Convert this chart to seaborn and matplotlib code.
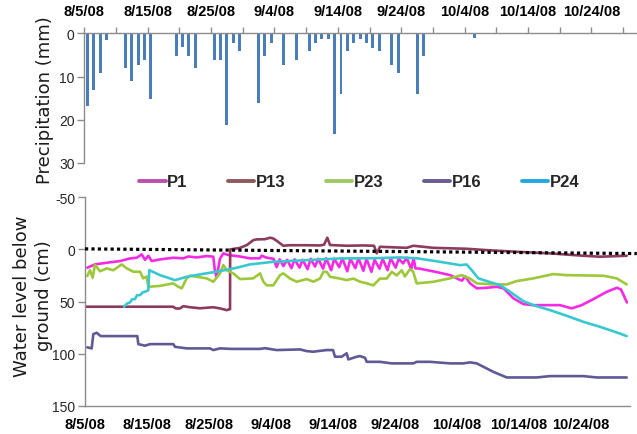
import pandas as pd
import matplotlib
matplotlib.use("Agg")
import matplotlib.pyplot as plt
import seaborn as sns
from matplotlib.lines import Line2D

START = pd.Timestamp("2008-08-05")

# Daily rainfall (mm)
rain_dates = ["2008-08-05", "2008-08-06", "2008-08-07", "2008-08-08", "2008-08-11",
              "2008-08-12", "2008-08-13", "2008-08-14", "2008-08-15", "2008-08-19",
              "2008-08-20", "2008-08-21", "2008-08-22", "2008-08-25", "2008-08-26",
              "2008-08-27", "2008-08-28", "2008-08-29", "2008-09-01", "2008-09-02",
              "2008-09-03", "2008-09-05", "2008-09-07", "2008-09-09", "2008-09-10",
              "2008-09-11", "2008-09-12", "2008-09-13", "2008-09-14", "2008-09-15",
              "2008-09-16", "2008-09-17", "2008-09-18", "2008-09-19", "2008-09-20",
              "2008-09-22", "2008-09-23", "2008-09-26", "2008-09-27", "2008-10-05"]
rain_mm = [16.8, 13.1, 9.2, 1.5, 8.0,
           11.1, 7.3, 6.1, 15.2, 5.3,
           3.2, 5.3, 8.0, 6.1, 6.1,
           21.2, 2.2, 4.1, 16.1, 5.3,
           2.2, 7.3, 6.1, 4.1, 2.2,
           1.4, 1.4, 23.2, 14.1, 4.1,
           2.2, 1.4, 2.2, 3.3, 4.1,
           7.3, 9.2, 14.1, 5.3, 1.2]

# Water level below ground (cm); days counted from 5 Aug 2008
p1_day = [0.37, 1.6, 3.5, 5.65, 7.26, 8.34, 9.15, 9.68, 10.21, 10.76, 12.1, 14.24,
          15.85, 16.66, 18.02, 19.63, 20.69, 20.97, 21.24, 21.77, 22.31, 23.11, 25.0,
          26.61, 28.2, 28.5, 29.3,
          30.4, 30.9, 31.4, 32.0, 32.6, 33.3, 33.8, 34.6, 35.1, 35.9, 36.4, 37.1, 37.6,
          38.4, 38.9, 39.7, 40.2, 41.0, 41.5, 42.3, 42.8, 43.6, 44.1, 44.9, 45.4, 46.2,
          46.7, 47.5, 48.0, 48.8, 49.3, 50.1, 50.6, 51.3, 51.9, 52.6, 53.0, 53.3,
          54.0, 56.5, 58.9, 60.2, 60.8, 61.3, 62.1, 63.2, 64.8, 66.4, 67.5, 69.1, 70.7,
          72.3, 76.6, 78.5, 80.1, 82.0, 84.15, 85.8, 86.45, 86.8, 87.4]
p1_cm = [17.6, 14.4, 12.8, 11.2, 8.7, 8.0, 4.8, 10.0, 6.1, 11.2, 9.6, 8.0,
         8.6, 6.8, 7.7, 6.4, 7.0, 21.5, 26.8, 9.0, 3.8, 5.4, 6.8,
         8.6, 8.6, 6.0, 8.0,
         9.0, 17.0, 9.5, 16.0, 10.0, 18.0, 9.5, 17.5, 10.0, 19.0, 9.0, 16.5, 9.0,
         18.5, 8.5, 20.0, 9.0, 17.0, 8.5, 21.0, 9.0, 18.0, 8.5, 20.5, 9.0, 21.5,
         10.0, 18.5, 9.0, 20.0, 8.5, 17.5, 9.0, 13.4, 8.0, 19.0, 8.5, 18.2,
         18.5, 21.5, 24.7, 28.5, 30.0, 25.7, 32.6, 37.4, 36.8, 35.9, 37.4, 47.0, 52.5,
         53.5, 53.5, 56.6, 53.5, 47.7, 40.7, 36.8, 38.5, 43.0, 50.9]

p13_day = [0.16, 14.19, 14.68, 15.3, 15.85, 16.94, 18.55, 20.69, 21.77, 22.85, 23.27,
           23.39, 23.41, 25.0, 26.08, 27.15, 27.69, 29.03, 29.84, 30.37, 30.97, 31.98,
           33.06, 35.76, 37.9, 38.55, 39.08, 39.52, 42.21, 44.89, 46.61, 47.05, 47.58,
           51.89, 52.95, 56.18, 61.56, 64.79, 69.63, 75.0, 80.37, 83.06, 87.37]
p13_cm = [55.0, 55.0, 56.7, 56.7, 54.5, 55.5, 56.5, 55.5, 56.6, 58.3, 57.5,
          57.5, 0.0, -1.5, -4.1, -8.9, -9.6, -9.8, -11.2, -10.5, -8.0, -3.5,
          -4.0, -4.0, -3.8, -4.5, -11.2, -4.2, -3.5, -3.8, -3.5, 3.8, -2.5,
          -1.5, -3.5, -1.5, -0.6, 0.7, 2.3, 3.8, 6.1, 7.0, 6.1]

p23_day = [0.37, 0.81, 1.24, 1.61, 2.42, 3.5, 4.56, 5.37, 5.92, 6.73, 7.79, 8.87,
           9.4, 9.95, 10.21, 12.1, 14.24, 15.05, 15.6, 16.4, 16.94, 18.02, 19.63,
           20.69, 21.77, 22.31, 22.85, 23.92, 25.0, 27.15, 28.23, 28.76, 29.31, 30.37,
           31.45, 31.98, 33.06, 34.15, 35.76, 36.82, 37.9, 38.44, 38.98, 39.52, 41.13,
           42.21, 43.27, 44.35, 45.44, 46.5, 47.58, 48.66, 49.47, 50.27, 51.08, 51.6,
           52.4, 52.9, 53.5, 56.18, 58.87, 60.76, 62.1, 63.18, 65.85, 68.02, 69.63,
           72.31, 75.53, 77.69, 80.92, 83.6, 85.76, 87.37]
p23_cm = [25.5, 20.0, 27.2, 14.8, 21.0, 18.2, 20.0, 16.7, 14.4, 18.2, 21.4, 21.4,
          27.8, 26.0, 35.9, 35.0, 32.6, 35.9, 37.4, 27.8, 25.2, 26.3, 27.8,
          31.1, 23.0, 15.0, 20.0, 23.0, 28.5, 27.8, 23.0, 31.0, 34.5, 34.5,
          24.7, 23.0, 28.0, 31.0, 28.5, 31.0, 28.0, 21.5, 21.5, 26.3, 28.0,
          29.5, 28.0, 31.0, 32.6, 34.5, 28.0, 28.0, 21.5, 25.0, 20.0, 26.0,
          19.0, 21.0, 32.6, 31.1, 27.8, 24.7, 28.0, 32.6, 33.6, 33.6, 30.4,
          27.8, 23.7, 24.7, 25.0, 25.3, 27.8, 33.6]

p16_day = [0.37, 1.08, 1.34, 1.89, 2.53, 8.44, 8.6, 9.68, 10.48, 14.24, 14.52, 16.4,
           20.16, 20.69, 21.77, 23.66, 28.23, 29.03, 30.92, 34.68, 35.76, 36.77, 38.98,
           40.0, 40.32, 41.4, 42.21, 42.47, 43.82, 44.35, 45.16, 45.44, 47.58, 49.47,
           52.95, 53.5, 55.65, 58.87, 61.02, 62.1, 63.18, 65.85, 68.02, 72.85, 75.0,
           80.37, 82.53, 87.37]
p16_cm = [94.0, 95.0, 81.3, 80.0, 83.2, 83.2, 90.9, 92.4, 90.9, 90.9, 93.5, 95.0,
          95.0, 96.6, 95.0, 95.5, 95.5, 94.8, 96.6, 96.0, 97.6, 98.2, 96.6,
          96.6, 103.0, 103.0, 99.7, 105.6, 103.0, 102.4, 104.0, 107.9, 107.9, 109.4,
          109.4, 107.9, 107.9, 109.4, 109.4, 108.4, 109.4, 117.5, 122.9, 122.9, 121.6,
          121.6, 122.9, 122.9]

p24_day = [6.29, 6.77, 7.26, 7.58, 8.06, 8.39, 8.87, 9.35, 9.68, 10.21, 10.37, 12.1,
           14.52, 16.4, 18.55, 21.77, 24.47, 26.61, 30.37, 35.76, 41.13, 46.5, 50.81,
           53.5, 57.26, 60.48, 61.56, 62.37, 63.44, 64.79, 66.94, 68.55, 70.69, 72.31,
           75.0, 77.69, 80.37, 83.06, 85.76, 87.37]
p24_cm = [55.0, 52.0, 50.9, 48.0, 47.7, 44.0, 43.9, 41.0, 40.7, 39.2, 19.9, 24.7,
          29.5, 26.3, 24.0, 20.8, 17.6, 14.4, 11.9, 10.3, 8.7, 8.5, 7.7,
          8.5, 11.9, 15.1, 14.5, 19.9, 27.8, 30.4, 34.3, 40.7, 49.6, 53.5,
          58.3, 63.7, 69.5, 74.3, 79.7, 83.2]

# Ground surface reference (dotted)
ground_day = [0.0, 89.0]
ground_cm = [-0.5, 4.0]

well_names = ["P1", "P13", "P23", "P16", "P24"]
line_colors = ["#F42AE4", "#8C3B5E", "#9DC83A", "#5F5A95", "#38C8CF"]
legend_colors = ["#BC4FAE", "#8E5A5C", "#9CCB62", "#6A5C8C", "#22A8DF"]

label_dates = ["2008-08-05", "2008-08-15", "2008-08-25", "2008-09-04", "2008-09-14",
               "2008-09-24", "2008-10-04", "2008-10-14", "2008-10-24"]
label_texts = ["8/5/08", "8/15/08", "8/25/08", "9/4/08", "9/14/08",
               "9/24/08", "10/4/08", "10/14/08", "10/24/08"]
minor_dates = ["2008-08-10", "2008-08-20", "2008-08-30", "2008-09-09", "2008-09-19",
               "2008-09-29", "2008-10-09", "2008-10-19", "2008-10-29"]

sns.set_style("white")
plt.rcParams["font.family"] = ["Liberation Sans", "DejaVu Sans"]
plt.rcParams["axes.unicode_minus"] = False

AXIS_GREY = "#8C8C8C"

fig = plt.figure(figsize=(6.37, 4.35), dpi=100)
W, H = 637.0, 435.0
ax_top = fig.add_axes([84.3 / W, 1 - 164 / H, (637 - 84.3) / W, (164 - 34.3) / H])
ax_bot = fig.add_axes([85 / W, 1 - 406.7 / H, 545 / W, (406.7 - 198.3) / H])

# ---- precipitation ----
bar_x = pd.to_datetime(rain_dates) + pd.Timedelta(hours=12)
ax_top.bar(bar_x, rain_mm, width=0.47, color="#4A7EBB", linewidth=0)
ax_top.set_ylim(30, 0)
ax_top.set_xlim(START, START + pd.Timedelta(days=87.2))
ax_top.set_yticks([0, 10, 20, 30])
ax_top.xaxis.tick_top()
for s in ["bottom", "right"]:
    ax_top.spines[s].set_visible(False)
for s in ["top", "left"]:
    ax_top.spines[s].set_color(AXIS_GREY)
    ax_top.spines[s].set_linewidth(1.0)

# ---- water levels ----
frames = []
for name, d, v in zip(well_names,
                      [p1_day, p13_day, p23_day, p16_day, p24_day],
                      [p1_cm, p13_cm, p23_cm, p16_cm, p24_cm]):
    frames.append(pd.DataFrame({
        "date": START + pd.to_timedelta(d, unit="D"),
        "level": v,
        "well": name,
    }))
levels = pd.concat(frames, ignore_index=True)

sns.lineplot(data=levels, x="date", y="level", hue="well", hue_order=well_names,
             palette=dict(zip(well_names, line_colors)), estimator=None, sort=False,
             errorbar=None, linewidth=1.9, legend=False, ax=ax_bot)

ax_bot.plot(START + pd.to_timedelta(ground_day, unit="D"), ground_cm, color="black",
            linewidth=2.3, linestyle=(0, (1, 1)), dash_capstyle="butt", clip_on=False,
            zorder=5)

ax_bot.set_ylim(150, -50)
ax_bot.set_yticks([-50, 0, 50, 100, 150])
ax_bot.set_xlim(START, START + pd.Timedelta(days=87.9))
ax_bot.set_xlabel("")
ax_bot.set_ylabel("")
for s in ["top", "right"]:
    ax_bot.spines[s].set_visible(False)
for s in ["bottom", "left"]:
    ax_bot.spines[s].set_color(AXIS_GREY)
    ax_bot.spines[s].set_linewidth(1.0)

# ---- shared date ticks ----
for ax, pad in [(ax_top, 7), (ax_bot, 4)]:
    ax.set_xticks(pd.to_datetime(label_dates))
    ax.set_xticklabels(label_texts, fontsize=10.5, fontweight="bold", color="black")
    ax.set_xticks(pd.to_datetime(minor_dates), minor=True)
    ax.tick_params(axis="x", which="both", direction="out", length=4, width=1,
                   color=AXIS_GREY, pad=pad)
    ax.tick_params(axis="y", direction="out", length=5, width=1, color=AXIS_GREY,
                   labelsize=10, labelcolor="#262626", pad=2, left=True)
    ax.grid(False)

# ---- axis titles ----
fig.text(45 / W, 1 - 100 / H, "Precipitation (mm)", rotation=90, ha="center",
         va="center", fontsize=13, family=["DejaVu Sans"], color="#1a1a1a")
fig.text(33 / W, 1 - 296 / H, "Water level below\nground (cm)", rotation=90,
         ha="center", va="center", fontsize=13, family=["DejaVu Sans"],
         linespacing=1.25, multialignment="center", color="#1a1a1a")

# ---- legend ----
handles = [Line2D([0], [0], color=c, linewidth=2.8) for c in legend_colors]
leg = fig.legend(handles, well_names, loc="center", bbox_to_anchor=(0.564, 1 - 183 / H),
                 ncol=5, frameon=False, handlelength=1.6, handletextpad=0.1,
                 columnspacing=2.4, prop={"weight": "bold", "size": 12})

fig.savefig("out.png", dpi=100)
